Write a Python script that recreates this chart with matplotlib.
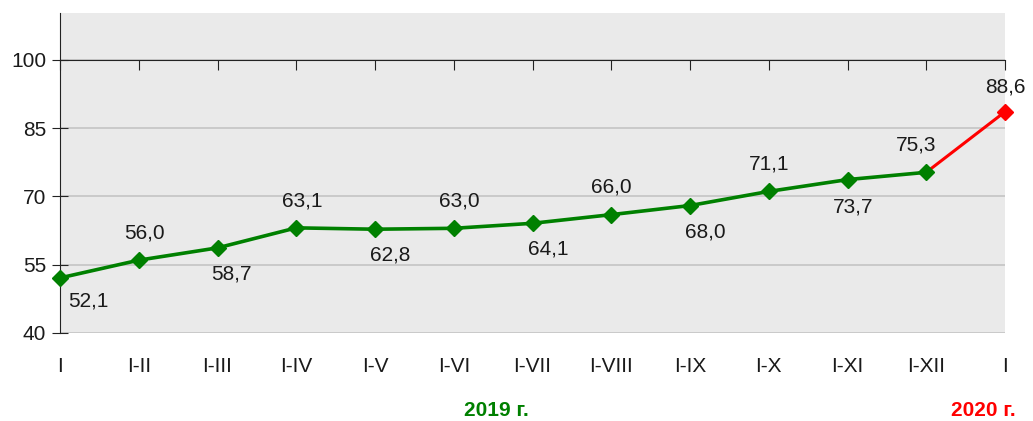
import matplotlib.pyplot as plt
import matplotlib.transforms as mtransforms

# Dati
categories = ["I", "I-II", "I-III", "I-IV", "I-V", "I-VI", "I-VII", "I-VIII",
              "I-IX", "I-X", "I-XI", "I-XII", "I"]
values_2019 = [52.1, 56.0, 58.7, 63.1, 62.8, 63.0, 64.1, 66.0, 68.0, 71.1, 73.7, 75.3]
value_2020 = 88.6
year_labels = ["2019 г.", "2020 г."]

# offset delle etichette (pixel)
label_offsets = [(28, -23), (6, 27), (14, -26), (6, 27), (15, -26), (6, 27), (16, -26),
                 (0, 28), (15, -26), (0, 27), (6, -27), (-10, 27), (0, 25)]

plt.rcParams['font.family'] = ['Liberation Sans', 'DejaVu Sans']

green = "#008000"
red = "#ff0000"
txt = "#1a1a1a"
fs = 15

fig = plt.figure(figsize=(10.33, 4.21), dpi=100)
ax = fig.add_axes([60 / 1033, 1 - 333 / 421, 945 / 1033, 320 / 421])
ax.set_facecolor("#eaeaea")

x19 = list(range(len(values_2019)))
x20 = len(values_2019)

ax.plot([x19[-1], x20], [values_2019[-1], value_2020], color=red, lw=2.2, zorder=3)
ax.plot(x20, value_2020, marker="D", ms=8, color=red, zorder=4, clip_on=False)
ax.plot(x19, values_2019, color=green, lw=2.6, marker="D", ms=8, zorder=4, clip_on=False)

all_vals = values_2019 + [value_2020]
for i, v in enumerate(all_vals):
    dx, dy = label_offsets[i]
    ax.annotate(f"{v:.1f}".replace(".", ","), (i, v), xytext=(dx, dy),
                textcoords="offset pixels", ha="center", va="center",
                fontsize=fs, color=txt, annotation_clip=False)

ax.set_xlim(0, 12)
ax.set_ylim(40, 110.3)
ax.set_yticks([40, 55, 70, 85, 100])
ax.grid(axis="y", color="#c4c4c4", lw=1.2)
ax.set_axisbelow(True)

for s in ["top", "right"]:
    ax.spines[s].set_visible(False)
ax.spines["left"].set_color("#222222")
ax.spines["bottom"].set_position(("data", 100))
ax.spines["bottom"].set_color("#222222")
ax.spines["bottom"].set_zorder(2)

ax.set_xticks(range(len(categories)))
ax.tick_params(axis="x", direction="out", length=7, color="#222222", labelbottom=False)
ax.tick_params(axis="y", direction="inout", length=12, color="#222222",
               labelsize=fs, labelcolor=txt, pad=4)

trans = mtransforms.blended_transform_factory(ax.transData, ax.transAxes)
for i, c in enumerate(categories):
    ax.text(i, -0.105, c, transform=trans, ha="center", va="center",
            fontsize=fs, color=txt)

fig.text(496 / 1033, 1 - 410 / 421, year_labels[0], ha="center", va="center",
         fontsize=fs, fontweight="bold", color=green)
fig.text(983 / 1033, 1 - 410 / 421, year_labels[1], ha="center", va="center",
         fontsize=fs, fontweight="bold", color=red)

fig.savefig("out.png", dpi=100)
